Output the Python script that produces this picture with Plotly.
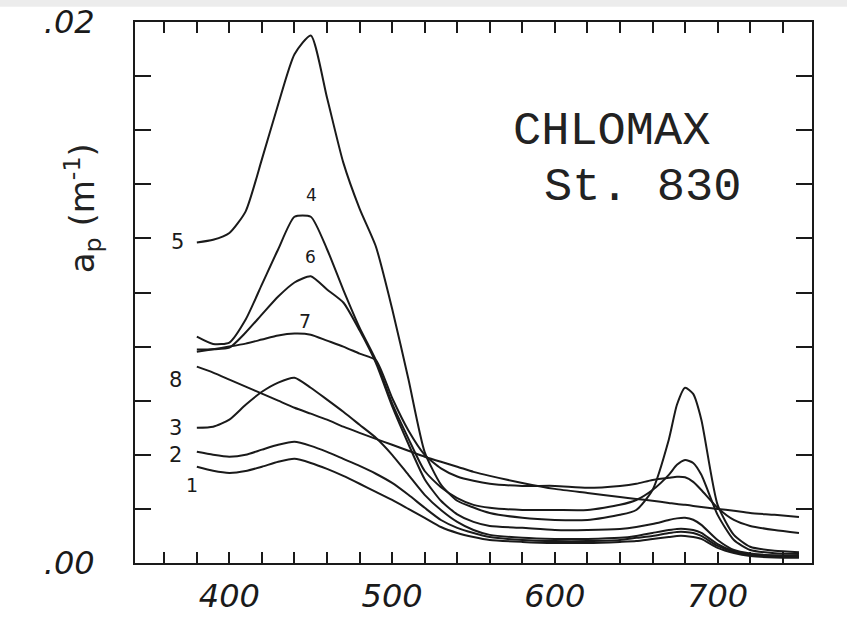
import plotly.graph_objects as go

# wavelength (nm)
wl = [380, 390, 400, 410, 420, 430, 440, 450, 460, 470, 480, 490, 500, 510, 520, 530, 540, 550,
      560, 580, 600, 620, 640, 650, 660, 670, 675, 680, 685, 690, 700, 710, 720, 735, 750]

# particulate absorption a_p (m^-1) for each sample
c1 = [0.00356, 0.00341, 0.00333, 0.0034, 0.00356, 0.00374, 0.00385, 0.0037, 0.00348, 0.00322, 0.00293,
      0.00263, 0.00233, 0.002, 0.00167, 0.00133, 0.00111, 0.00096, 0.00085, 0.00078, 0.00074, 0.00074,
      0.00078, 0.00081, 0.00089, 0.00096, 0.001, 0.001, 0.00096, 0.00089, 0.00056, 0.00037, 0.00026,
      0.0002, 0.00019]
c2 = [0.00411, 0.0040, 0.00393, 0.004, 0.00419, 0.00437, 0.00448, 0.00433, 0.00411, 0.00385, 0.00359,
      0.0033, 0.00296, 0.00252, 0.00204, 0.00159, 0.0013, 0.00111, 0.00096, 0.00085, 0.00081, 0.00081,
      0.00085, 0.00093, 0.001, 0.00111, 0.00115, 0.00115, 0.00111, 0.001, 0.00063, 0.00041, 0.0003,
      0.00024, 0.00022]
c3 = [0.0050, 0.00504, 0.0053, 0.00585, 0.00633, 0.00667, 0.00685, 0.00648, 0.00604, 0.00559, 0.00511,
      0.00463, 0.0040, 0.00326, 0.00252, 0.00196, 0.00152, 0.00122, 0.00104, 0.00093, 0.00089, 0.00089,
      0.00093, 0.001, 0.00111, 0.00122, 0.00126, 0.00126, 0.00122, 0.00111, 0.0007, 0.00044, 0.00033,
      0.00028, 0.00026]
c4 = [0.00837, 0.0081, 0.00815, 0.0090, 0.0103, 0.0116, 0.0128, 0.0128, 0.0116, 0.0101, 0.0087,
      0.0075, 0.0059, 0.0046, 0.0034, 0.0028, 0.0024, 0.00215, 0.00204, 0.00196, 0.00196, 0.00196,
      0.00215, 0.00233, 0.0027, 0.00326, 0.00363, 0.00381, 0.0037, 0.00326, 0.00178, 0.00085, 0.00048,
      0.00036, 0.00033]
c5 = [0.01185, 0.01195, 0.0122, 0.0130, 0.01493, 0.01696, 0.01881, 0.0195, 0.0172, 0.0148, 0.0131,
      0.0117, 0.0094, 0.0068, 0.0041, 0.0029, 0.0023, 0.00205, 0.00185, 0.00167, 0.00159, 0.00159,
      0.00178, 0.00196, 0.0027, 0.00456, 0.00585, 0.00648, 0.00625, 0.0053, 0.00215, 0.00104, 0.0006,
      0.00045, 0.0004]
c6 = [0.00789, 0.0079, 0.00796, 0.00852, 0.00919, 0.00985, 0.01037, 0.0106, 0.01011, 0.00963, 0.0086,
      0.0074, 0.0058, 0.0044, 0.0031, 0.0023, 0.0018, 0.00152, 0.00137, 0.0013, 0.00122, 0.00122,
      0.00126, 0.00133, 0.00144, 0.00159, 0.00165, 0.00167, 0.0016, 0.00141, 0.00085, 0.00048, 0.00035,
      0.00028, 0.00026]
c7 = [0.00781, 0.0079, 0.0080, 0.00811, 0.00826, 0.00841, 0.00848, 0.00844, 0.00822, 0.0080, 0.00774,
      0.0075, 0.0061, 0.0049, 0.0040, 0.0035, 0.0032, 0.00304, 0.00293, 0.00285, 0.00285, 0.00278,
      0.00285, 0.00293, 0.00307, 0.00315, 0.00319, 0.00317, 0.0030, 0.0027, 0.00204, 0.00159, 0.00137,
      0.00122, 0.00111]
c8 = [0.00726, 0.00704, 0.00678, 0.00652, 0.00626, 0.0060, 0.00574, 0.00552, 0.0053, 0.00504, 0.00481,
      0.00459, 0.00437, 0.00415, 0.00393, 0.00374, 0.00356, 0.00337, 0.00322, 0.00296, 0.00274, 0.00259,
      0.00244, 0.00237, 0.0023, 0.00222, 0.00218, 0.00215, 0.00211, 0.00207, 0.002, 0.00193, 0.00185,
      0.00178, 0.0017]

series = {"1": c1, "2": c2, "3": c3, "4": c4, "5": c5, "6": c6, "7": c7, "8": c8}

# curve label positions (wavelength, value)
label_names = ["5", "4", "6", "7", "8", "3", "2", "1"]
label_x = [368.4, 450.2, 449.6, 446.5, 366.6, 366.6, 366.6, 377.0]
label_y = [0.01185, 0.01359, 0.0113, 0.00893, 0.00678, 0.0050, 0.0040, 0.00289]
label_size = [21, 17, 17, 19, 21, 21, 21, 19]

x_ticks = list(range(360, 760, 20))
x_text = [str(v) if v in (400, 500, 600, 700) else "" for v in x_ticks]
y_ticks = [i * 0.002 for i in range(11)]
y_text = [".00"] + [""] * 9 + [".02"]

ink = "#1a1a1a"
fig = go.Figure()
for name, vals in series.items():
    fig.add_trace(go.Scatter(x=wl, y=vals, mode="lines", name=name, showlegend=False,
                             line=dict(color=ink, width=2, shape="spline", smoothing=0.6)))

for t, x, y, s in zip(label_names, label_x, label_y, label_size):
    fig.add_annotation(x=x, y=y, text=t, showarrow=False,
                       font=dict(family="DejaVu Sans", size=s, color=ink))

fig.add_annotation(x=635, y=0.01596, text="CHLOMAX", showarrow=False,
                   font=dict(family="Liberation Mono", size=47, color="#222"))
fig.add_annotation(x=654, y=0.01389, text="St. 830", showarrow=False,
                   font=dict(family="Liberation Mono", size=47, color="#222"))

fig.add_annotation(xref="paper", yref="paper", x=-0.078, y=0.656, xanchor="center", yanchor="middle",
                   text="a<sub>p</sub> (m<sup>-1</sup>)", textangle=-90, showarrow=False,
                   font=dict(family="DejaVu Sans", size=34, color="#222"))

# faint scan band at the top
fig.add_shape(type="rect", xref="paper", yref="paper", x0=-0.3, x1=1.1, y0=1.028, y1=1.05,
              fillcolor="#ececec", line=dict(width=0), layer="below")

tickfont = dict(family="DejaVu Sans", size=32, color="#1a1a1a", style="italic")
fig.update_xaxes(range=[342, 758], tickmode="array", tickvals=x_ticks, ticktext=x_text,
                 ticks="inside", ticklen=11, tickwidth=2, tickcolor=ink,
                 showline=True, linecolor=ink, linewidth=2, mirror="ticks",
                 showgrid=False, zeroline=False, tickfont=tickfont, ticklabelstandoff=4,
                 automargin=False)
fig.update_yaxes(range=[0, 0.02], tickmode="array", tickvals=y_ticks, ticktext=y_text,
                 ticks="inside", ticklen=16, tickwidth=2, tickcolor=ink,
                 showline=True, linecolor=ink, linewidth=2, mirror="ticks",
                 showgrid=False, zeroline=False, tickfont=tickfont, ticklabelstandoff=32,
                 automargin=False)

fig.update_layout(width=847, height=618, margin=dict(l=135, r=35, t=22, b=55, autoexpand=False),
                  paper_bgcolor="white", plot_bgcolor="white")

fig.write_html("out.html")
